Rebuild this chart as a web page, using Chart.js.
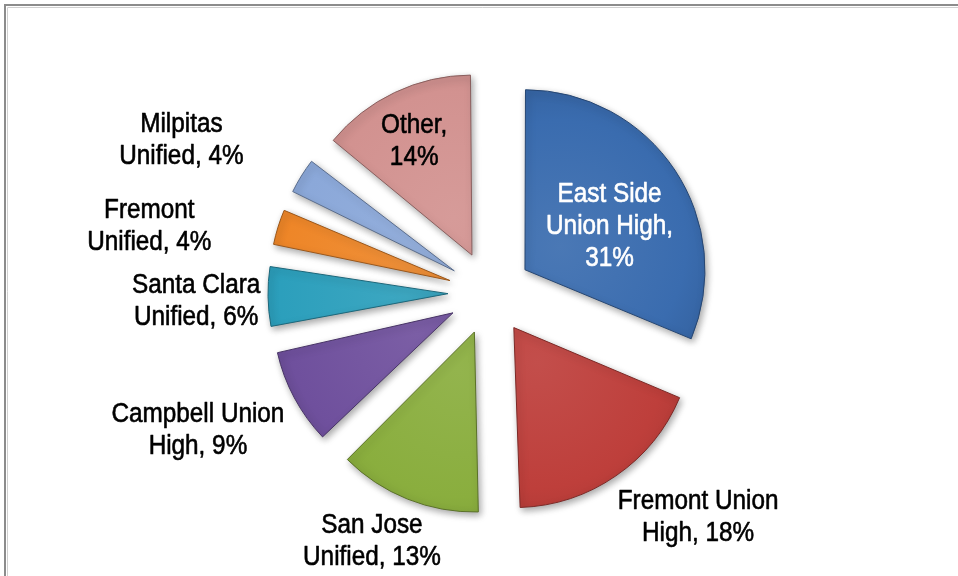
<!DOCTYPE html>
<html>
<head>
<meta charset="utf-8">
<script src="https://cdn.jsdelivr.net/npm/chart.js@4.4.1/dist/chart.umd.min.js"></script>
<style>
    html, body { margin: 0; padding: 0; background: #ffffff; }
    #wrap { position: relative; width: 958px; height: 576px; }
</style>
</head>
<body>
<div id="wrap"><canvas id="chart" width="958" height="576"></canvas></div>
<script>
// Datos del grafico
const districts = ['East Side Union High', 'Fremont Union High', 'San Jose Unified', 'Campbell Union High',
    'Santa Clara Unified', 'Fremont Unified', 'Milpitas Unified', 'Other'];
const shares = [31, 18, 13, 9, 6, 4, 4, 14];

// Estilo
const baseColors = ['#3a6caf', '#be3f3b', '#8aae3e', '#6f509d', '#2c9fbc', '#ee8628', '#8ba8d9', '#d29290'];
const labelColors = ['#ffffff', '#000000', '#000000', '#000000', '#000000', '#000000', '#000000', '#000000'];
const PIE_RADIUS = 180;
const SLICE_OFFSET = 168; // Chart.js divide el offset entre 4 -> 42px

// Ajustar color
function shade(hex, f) {
    const n = parseInt(hex.slice(1), 16);
    let r = (n >> 16) & 255, g = (n >> 8) & 255, b = n & 255;
    const t = f < 0 ? 0 : 255;
    const p = Math.abs(f);
    r = Math.round((t - r) * p + r);
    g = Math.round((t - g) * p + g);
    b = Math.round((t - b) * p + b);
    return 'rgb(' + r + ',' + g + ',' + b + ')';
}

// Degradado radial por porcion
function sliceFill(context) {
    const chart = context.chart;
    const area = chart.chartArea;
    const base = baseColors[context.dataIndex];
    if (!area) return base;
    const vals = chart.data.datasets[0].data;
    const total = vals.reduce((a, b) => a + b, 0);
    let before = 0;
    for (let k = 0; k < context.dataIndex; k++) before += vals[k];
    const mid = -Math.PI / 2 + 2 * Math.PI * (before + vals[context.dataIndex] / 2) / total;
    const off = SLICE_OFFSET / 4;
    const cx = (area.left + area.right) / 2 + Math.cos(mid) * off;
    const cy = (area.top + area.bottom) / 2 + Math.sin(mid) * off;
    const g = chart.ctx.createRadialGradient(cx, cy, 0, cx, cy, PIE_RADIUS);
    g.addColorStop(0, shade(base, 0.08));
    g.addColorStop(0.7, base);
    g.addColorStop(0.92, shade(base, -0.08));
    g.addColorStop(1, shade(base, -0.32));
    return g;
}

// Plugin: marco, sombra y etiquetas
const pieDecor = {
    id: 'pieDecor',
    beforeDraw(chart) {
        const ctx = chart.ctx;
        ctx.save();
        ctx.strokeStyle = '#8c8c8c';
        ctx.lineWidth = 2;
        ctx.beginPath();
        ctx.moveTo(5, 576);
        ctx.lineTo(5, 5);
        ctx.lineTo(958, 5);
        ctx.stroke();
        ctx.strokeStyle = '#d0d0d0';
        ctx.lineWidth = 1;
        ctx.beginPath();
        ctx.moveTo(7.5, 576);
        ctx.lineTo(7.5, 7.5);
        ctx.lineTo(958, 7.5);
        ctx.stroke();
        ctx.restore();
    },
    beforeDatasetsDraw(chart) {
        // quitar el crecimiento de radio que Chart.js aplica a porciones pequenas
        const meta = chart.getDatasetMeta(0);
        const off = SLICE_OFFSET / 4;
        meta.data.forEach(arc => {
            const fix = 1 - Math.sin(Math.min(Math.PI, arc.circumference));
            arc.outerRadius = PIE_RADIUS - off * fix;
        });
        const ctx = chart.ctx;
        ctx.save();
        ctx.shadowColor = 'rgba(0,0,0,0.35)';
        ctx.shadowBlur = 7;
        ctx.shadowOffsetX = 2;
        ctx.shadowOffsetY = 3;
    },
    afterDatasetsDraw(chart, args, opts) {
        const ctx = chart.ctx;
        ctx.restore();
        const meta = chart.getDatasetMeta(0);
        const scaleX = opts.scaleX;
        ctx.save();
        ctx.font = opts.font;
        ctx.textAlign = 'center';
        ctx.textBaseline = 'middle';
        ctx.lineWidth = 0.6;
        ctx.lineJoin = 'round';
        meta.data.forEach((arc, i) => {
            const text = districts[i] + ', ' + shares[i] + '%';
            // partir en lineas
            const words = text.split(' ');
            const lines = [];
            let cur = '';
            words.forEach(w => {
                const test = cur ? cur + ' ' + w : w;
                if (cur && ctx.measureText(test).width * scaleX > opts.wrap[i]) {
                    lines.push(cur);
                    cur = w;
                } else {
                    cur = test;
                }
            });
            lines.push(cur);
            const ang = (arc.startAngle + arc.endAngle) / 2 + opts.turn[i] * Math.PI / 180;
            const x = arc.x + Math.cos(ang) * opts.dist[i];
            const y = arc.y + Math.sin(ang) * opts.dist[i];
            ctx.fillStyle = labelColors[i];
            ctx.strokeStyle = labelColors[i];
            lines.forEach((ln, k) => {
                const ly = y + (k - (lines.length - 1) / 2) * opts.lineHeight;
                ctx.save();
                ctx.translate(x, ly);
                ctx.scale(scaleX, 1);
                ctx.fillText(ln, 0, 0);
                ctx.strokeText(ln, 0, 0);
                ctx.restore();
            });
        });
        ctx.restore();
    }
};

new Chart(document.getElementById('chart'), {
    type: 'pie',
    data: {
        labels: districts,
        datasets: [{
            data: shares,
            backgroundColor: sliceFill,
            borderColor: baseColors.map(c => shade(c, -0.35)),
            borderWidth: 1,
            offset: SLICE_OFFSET
        }]
    },
    options: {
        responsive: false,
        animation: false,
        events: [],
        radius: PIE_RADIUS,
        layout: { padding: { left: 22, right: 0, top: 10, bottom: 0 } },
        plugins: {
            legend: { display: false },
            tooltip: { enabled: false },
            pieDecor: {
                font: '27px "Liberation Sans", Arial, sans-serif',
                scaleX: 0.9,
                lineHeight: 32,
                wrap: [150, 175, 150, 185, 150, 130, 130, 100],
                dist: [137, 306, 275, 323, 294, 347, 344, 169],
                turn: [4.4, -8.3, 3.6, 2.9, -0.7, -6.3, -5.6, -1.2]
            }
        }
    },
    plugins: [pieDecor]
});
</script>
</body>
</html>
